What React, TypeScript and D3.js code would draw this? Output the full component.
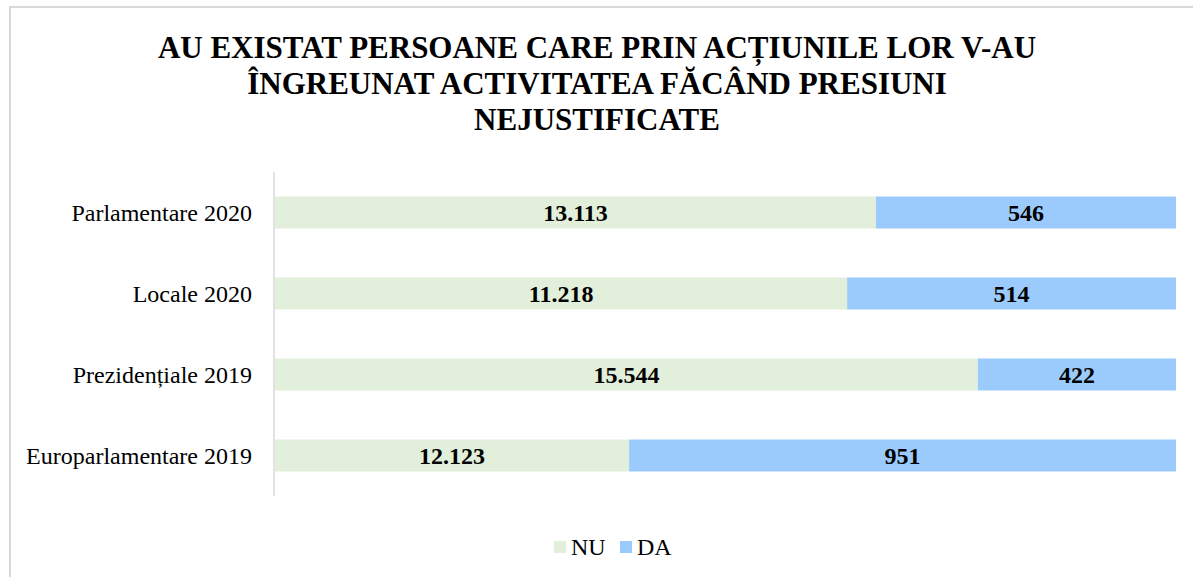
import React from "react";
import * as d3 from "d3";

const categories = ["Parlamentare 2020", "Locale 2020", "Prezidențiale 2019", "Europarlamentare 2019"];
const nuLabels = ["13.113", "11.218", "15.544", "12.123"];
const daLabels = ["546", "514", "422", "951"];
// share of each bar (in %) occupied by the NU segment
const nuShare = [66.7, 63.5, 78.0, 39.3];
const daShare = [33.3, 36.5, 22.0, 60.7];
const seriesNames = ["NU", "DA"];
const seriesColors = ["#E2EFDA", "#9BCBFC"];
const titleLines = [
  "AU EXISTAT PERSOANE CARE PRIN ACȚIUNILE LOR V-AU",
  "ÎNGREUNAT ACTIVITATEA FĂCÂND PRESIUNI",
  "NEJUSTIFICATE",
];

const W = 1193;
const H = 577;
const FONT = "'Liberation Serif', 'Times New Roman', serif";

export default function App() {
  const x = d3.scaleLinear().domain([0, 100]).range([275, 1176]);
  const y = d3.scaleBand<string>().domain(categories).range([172, 496]).paddingInner(0.605).paddingOuter(0.3025);
  const bw = y.bandwidth();

  return (
    <svg width={W} height={H} style={{ position: "absolute", left: 0, top: 0, background: "#fff" }} fontFamily={FONT}>
      <rect x={0} y={0} width={W} height={H} fill="#fff" />
      <path d={`M10,${H} V7 H${W}`} fill="none" stroke="#d9d9d9" strokeWidth={2} />
      {titleLines.map((t, i) => (
        <text key={i} x={597} y={58 + i * 36} textAnchor="middle" fontSize={31} fontWeight="bold" fill="#000">
          {t}
        </text>
      ))}
      {categories.map((c, i) => {
        const y0 = y(c)!;
        const x0 = x(0);
        const x1 = x(nuShare[i]);
        const x2 = x(nuShare[i] + daShare[i]);
        return (
          <g key={c}>
            <rect x={x0} y={y0} width={x1 - x0} height={bw} fill={seriesColors[0]} />
            <rect x={x1} y={y0} width={x2 - x1} height={bw} fill={seriesColors[1]} />
            <text x={(x0 + x1) / 2} y={y0 + bw / 2} dy="0.35em" textAnchor="middle" fontSize={24} fontWeight="bold">
              {nuLabels[i]}
            </text>
            <text x={(x1 + x2) / 2} y={y0 + bw / 2} dy="0.35em" textAnchor="middle" fontSize={24} fontWeight="bold">
              {daLabels[i]}
            </text>
            <text x={252} y={y0 + bw / 2} dy="0.35em" textAnchor="end" fontSize={24} fill="#000">
              {c}
            </text>
          </g>
        );
      })}
      <line x1={274} x2={274} y1={172} y2={496} stroke="#d9d9d9" strokeWidth={1.5} />
      <g>
        <rect x={554} y={541} width={12} height={12} fill={seriesColors[0]} />
        <text x={571} y={547} dy="0.35em" fontSize={24}>{seriesNames[0]}</text>
        <rect x={620} y={541} width={12} height={12} fill={seriesColors[1]} />
        <text x={637} y={547} dy="0.35em" fontSize={24}>{seriesNames[1]}</text>
      </g>
    </svg>
  );
}
